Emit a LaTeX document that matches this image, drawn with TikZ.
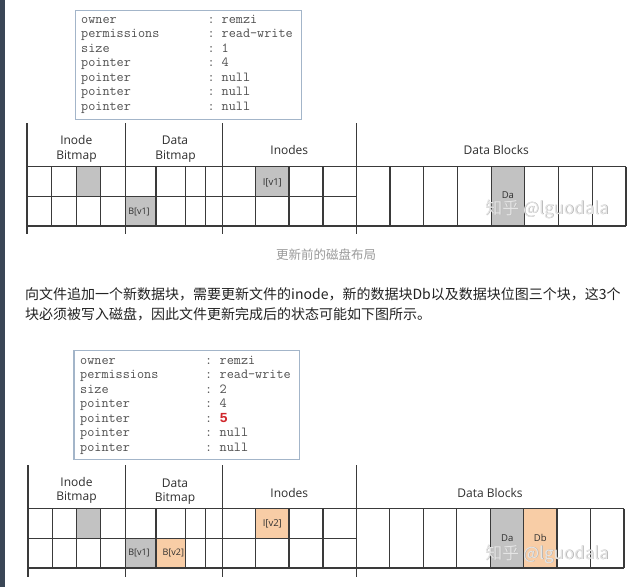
\documentclass[tikz,border=0pt]{standalone}
\usepackage{fontspec}
\setmainfont{Open Sans}
\newfontfamily\cjk{Noto Sans CJK SC}
\newfontfamily\monof{Liberation Mono}
\definecolor{linec}{HTML}{3A3A3A}
\definecolor{boxc}{HTML}{A3B5C9}
\definecolor{monoc}{HTML}{505050}
\definecolor{textc}{HTML}{2E2E2E}
\definecolor{grayc}{HTML}{C2C2C2}
\definecolor{orangec}{HTML}{F8CDA6}
\definecolor{stripc}{HTML}{3A4656}
\definecolor{capc}{HTML}{9A9A9A}
\definecolor{redc}{HTML}{D0262B}
\definecolor{parc}{HTML}{222222}
\tikzset{
  gl/.style={draw=linec, line width=1.2pt},
  inodebox/.style={draw=boxc, fill=white, line width=1.2pt, anchor=north west, inner sep=0pt},
  hdr/.style={font=\fontsize{12}{14}\selectfont, text=textc, anchor=mid, inner sep=0pt},
  cl/.style={font=\fontsize{9}{10}\selectfont, text=textc, inner sep=0pt},
  mono/.style={font=\ttfamily\fontsize{13.8}{15}\selectfont, text=monoc, anchor=mid west, inner sep=0pt},
  par/.style={font=\cjk\fontsize{14}{16}\selectfont, text=parc, anchor=mid west, inner sep=0pt},
  wm/.style={font=\cjk\fontsize{17}{18}\selectfont, inner sep=0pt},
}
\begin{document}
\begin{tikzpicture}[x=1pt,y=-1pt]
\useasboundingbox (0,0) rectangle (643,587);
\fill[white] (0,0) rectangle (643,587);
\fill[stripc] (0,0) rectangle (4.5,587);

% ---------------- top inode box ----------------
\node[inodebox, minimum width=226pt, minimum height=109pt] (boxA) at (75,10) {};
\foreach \i/\l/\v in {0/owner/remzi,1/permissions/read-write,2/size/1,3/pointer/4,4/pointer/null,5/pointer/null,6/pointer/null}{
  \node[mono] (aL\i) at (81,{20.7+14.45*\i}) {\l};
  \node[mono] (aC\i) at (207.5,{20.7+14.45*\i}) {:};
  \node[mono] (aV\i) at (221.5,{20.7+14.45*\i}) {\v};
}

% ---------------- top grid ----------------
\fill[grayc] (76.7,166.5) rectangle (100.7,196.5);
\fill[grayc] (125.7,196.5) rectangle (156,226);
\fill[grayc] (255.7,166.5) rectangle (289,196.5);
\fill[grayc] (491.1,166.5) rectangle (524.8,226);
\foreach \x in {27,125.7,222.3,356.3}{\draw[gl] (\x,123) -- (\x,234);}
\foreach \x in {51.7,76.7,100.7,156,185.7,205.7,255.7,289,323}{\draw[gl] (\x,166.5) -- (\x,226);}
\foreach \k in {1,...,8}{\draw[gl] ({356.3+33.71*\k},166.5) -- ({356.3+33.71*\k},226);}
\draw[gl] (27,166.5) -- (626,166.5);
\draw[gl] (27,226) -- (626,226);
\draw[gl] (27,196.5) -- (356.3,196.5);
\node[hdr] (aIB1) at (76.3,142) {Inode};
\node[hdr] (aIB2) at (76.5,156.7) {Bitmap};
\node[hdr] (aDB1) at (175,141.7) {Data};
\node[hdr] (aDB2) at (175.5,156.7) {Bitmap};
\node[hdr] (aIN) at (289.3,152) {Inodes};
\node[hdr] (aDK) at (496.3,152.3) {Data Blocks};
\node[cl] (aBv1) at (139,212) {B[v1]};
\node[cl, font=\fontsize{9.5}{10}\selectfont] (aIv1) at (272.3,182.5) {I[v1]};
\node[cl, font=\fontsize{9.5}{10}\selectfont] (aDa) at (507.9,195.5) {Da};
\node[wm, text=black!32] (aWMs) at (547.6,209.6) {知乎 @lguodala};
\node[wm, text=black!10] (aWM) at (547,209) {知乎 @lguodala};

% caption
\node[font=\cjk\fontsize{12.5}{14}\selectfont, text=capc, inner sep=0pt] (cap) at (326,255) {更新前的磁盘布局};

% paragraph
\node[par] (p1) at (25,296.5) {向文件追加一个新数据块，需要更新文件的inode，新的数据块Db以及数据块位图三个块，这3个};
\node[par] (p2) at (25,317) {块必须被写入磁盘，因此文件更新完成后的状态可能如下图所示。};

% ---------------- bottom inode box ----------------
\node[inodebox, minimum width=225.7pt, minimum height=109pt] (boxB) at (73.3,350) {};
\foreach \i/\l/\v in {0/owner/remzi,1/permissions/read-write,2/size/2,3/pointer/4,4/pointer/{\textcolor{redc}{\monof\bfseries 5}},5/pointer/null,6/pointer/null}{
  \node[mono] (bL\i) at (80,{361.7+14.45*\i}) {\l};
  \node[mono] (bC\i) at (205,{361.7+14.45*\i}) {:};
  \node[mono] (bV\i) at (219.5,{361.7+14.45*\i}) {\v};
}

% ---------------- bottom grid ----------------
\begin{scope}[shift={(0,342)}]
\fill[grayc] (76.7,166.5) rectangle (100.7,196.5);
\fill[grayc] (125.7,196.5) rectangle (156,226);
\fill[orangec] (156,196.5) rectangle (185.7,226);
\fill[orangec] (255.7,166.5) rectangle (289,196.5);
\fill[grayc] ({356.3+33.46*4},166.5) rectangle ({356.3+33.46*5},226);
\fill[orangec] ({356.3+33.46*5},166.5) rectangle ({356.3+33.46*6},226);
\foreach \x in {28,125.7,222.3,356.3}{\draw[gl] (\x,123) -- (\x,234.5);}
\foreach \x in {52.3,76.7,100.7,156,185.7,205.7,255.7,289,323}{\draw[gl] (\x,166.5) -- (\x,226);}
\foreach \k in {1,...,8}{\draw[gl] ({356.3+33.46*\k},166.5) -- ({356.3+33.46*\k},226);}
\draw[gl] (28,166.5) -- (624,166.5);
\draw[gl] (28,226) -- (624,226);
\draw[gl] (28,196.5) -- (356.3,196.5);
\node[hdr] (bIB1) at (76.5,141.5) {Inode};
\node[hdr] (bIB2) at (76.5,156.3) {Bitmap};
\node[hdr] (bDB1) at (175,143) {Data};
\node[hdr] (bDB2) at (175,157.3) {Bitmap};
\node[hdr] (bIN) at (289.3,153) {Inodes};
\node[hdr] (bDK) at (490,153) {Data Blocks};
\node[cl] (bBv1) at (139,210.7) {B[v1]};
\node[cl] (bBv2) at (173.3,210.7) {B[v2]};
\node[cl, font=\fontsize{9.5}{10}\selectfont] (bIv2) at (272.3,182) {I[v2]};
\node[cl, font=\fontsize{9.5}{10}\selectfont] (bDa) at (507.3,196) {Da};
\node[cl, font=\fontsize{9.5}{10}\selectfont] (bDb) at (540.3,196) {Db};
\node[wm, text=black!32] (bWMs) at (547.6,212.6) {知乎 @lguodala};
\node[wm, text=black!10] (bWM) at (547,212) {知乎 @lguodala};
\end{scope}
\end{tikzpicture}
\end{document}
